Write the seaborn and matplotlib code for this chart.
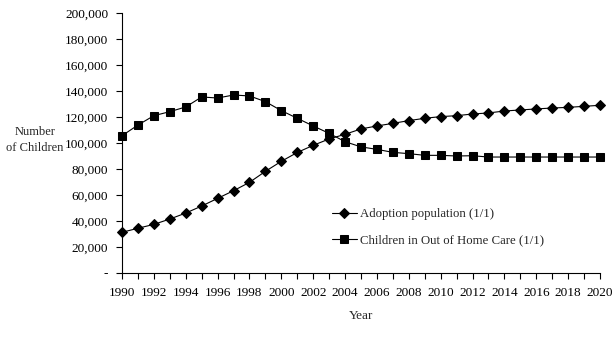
import numpy as np
import pandas as pd
import matplotlib
matplotlib.use('Agg')
import matplotlib.pyplot as plt
import seaborn as sns
from matplotlib.ticker import FuncFormatter, MultipleLocator

# ----------------------------------------------------------------------------
# Data

years = list(range(1990, 2021))
adoption = [31300, 34400, 37400, 41500, 46100, 51500, 57400, 63300, 69700,
            78200, 85900, 92700, 98200, 103100, 106700, 110800, 113100,
            115100, 117200, 119000, 120300, 121000, 122300, 123100, 124600,
            125400, 126200, 126900, 127400, 128200, 129000]
out_of_home = [105600, 113800, 121000, 124100, 127700, 135400, 134600,
               136900, 136200, 131800, 124900, 119000, 113100, 107400,
               101000, 97000, 95100, 92800, 91800, 90500, 90500, 90000,
               90200, 89200, 89200, 89200, 89200, 89200, 89200, 89200, 89200]
series_names = ['Adoption population (1/1)',
                'Children in Out of Home Care (1/1)']

# ----------------------------------------------------------------------------

sns.set_style('white')
plt.rcParams['font.family'] = ['Liberation Serif', 'DejaVu Serif']
fs = 9.5
msize = {'s': 5.9, 'D': 5.6}

df = pd.DataFrame({'Year': years,
                   series_names[0]: adoption,
                   series_names[1]: out_of_home})
long_df = df.melt(id_vars='Year', var_name='series', value_name='count')

fig = plt.figure(figsize=(6.14, 3.39), dpi=100)
ax = fig.add_axes([0.1987, 0.1947, 0.7785, 0.767])

sns.lineplot(data=long_df, x='Year', y='count', hue='series', style='series',
             markers={series_names[0]: 'D', series_names[1]: 's'},
             dashes=False, palette=['black', 'black'], linewidth=0.8,
             markersize=5, markeredgecolor='black', ax=ax, clip_on=False)

for line in ax.lines:
    if line.get_marker() in msize:
        line.set_markersize(msize[line.get_marker()])

ax.set_xlim(1990, 2020)
ax.set_ylim(0, 200000)
ax.xaxis.set_major_locator(MultipleLocator(2))
ax.xaxis.set_minor_locator(MultipleLocator(1))
ax.yaxis.set_major_locator(MultipleLocator(20000))
ax.yaxis.set_major_formatter(FuncFormatter(
    lambda v, p: '-' if v == 0 else format(int(v), ',')))
ax.tick_params(axis='both', which='both', direction='out', length=4,
               width=0.8, colors='black', labelsize=fs,
               bottom=True, left=True)
ax.tick_params(axis='x', pad=6)
ax.tick_params(axis='y', pad=6)

for s in ['top', 'right']:
    ax.spines[s].set_visible(False)
for s in ['left', 'bottom']:
    ax.spines[s].set_color('black')
    ax.spines[s].set_linewidth(0.8)

ax.set_xlabel('Year', fontsize=fs, labelpad=8)
ax.set_ylabel('')
fig.text(35 / 614, 1 - 140 / 339, 'Number\nof Children', fontsize=9,
         ha='center', va='center', linespacing=1.4)

leg = ax.legend(loc='center left', bbox_to_anchor=(0.416, 0.175),
                frameon=False, fontsize=9.2, handlelength=1.9,
                labelspacing=1.1, handletextpad=0.3)
for h in leg.legend_handles:
    if h.get_marker() in msize:
        h.set_markersize(msize[h.get_marker()])

plt.savefig('out.png', dpi=100)
plt.close(fig)
